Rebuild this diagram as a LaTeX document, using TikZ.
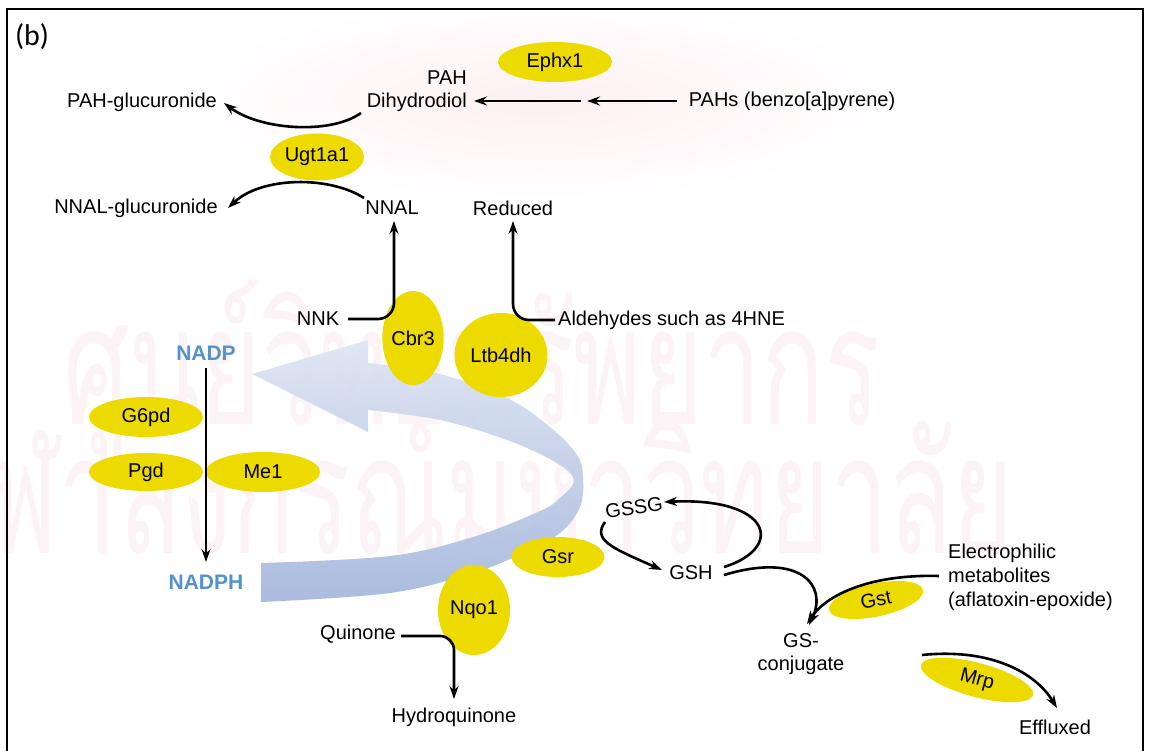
\documentclass[tikz,border=0pt]{standalone}
\usepackage{fontspec}
\setmainfont{Liberation Sans}
\newfontfamily\labfont{Carlito}
\newfontfamily\thaifont[Script=Thai]{Loma}
\usetikzlibrary{shapes.geometric,arrows.meta}
\definecolor{enz}{RGB}{237,219,0}
\definecolor{nadcol}{RGB}{84,146,204}
\definecolor{bandtop}{RGB}{222,229,243}
\definecolor{bandbot}{RGB}{164,182,220}
\definecolor{wmcol}{RGB}{252,243,246}
\definecolor{crestcol}{RGB}{252,240,242}
\begin{document}
\begin{tikzpicture}[x=1pt,y=-1pt,
  every node/.style={font=\fontsize{20}{22.5}\selectfont, inner sep=1pt},
  enzyme/.style={ellipse, fill=enz, inner sep=0pt},
  nad/.style={font=\bfseries\fontsize{21}{24}\selectfont, text=nadcol},
  conn/.style={line width=2.6pt, -{Stealth[length=13pt,width=9pt]}},
  watermark/.style={font=\thaifont\fontsize{165}{165}\selectfont, text=wmcol, xscale=0.63, inner sep=0pt}
]
\useasboundingbox (0,0) rectangle (1151,751);
\fill[white] (0,0) rectangle (1151,751);
% faint crest behind the top
\shade[inner color=crestcol, outer color=white] (540,100) ellipse [x radius=360pt, y radius=100pt];

% watermark
\node[watermark] (wm1) at (472,374) {ศูนย์วิทยทรัพยากร};
\node[watermark] (wm2) at (470,503) {จุฬาลงกรณ์มหาวิทยาลัย};

% curved ribbon arrow
\shade[top color=bandtop, bottom color=bandbot, fill opacity=0.92]
  plot[smooth, tension=0.6] coordinates {(261,602) (390,593) (473,573) (523,553) (560,533) (580,507) (583,477) (577,455) (550,427) (507,398) (440,374) (368,363)}
  -- (368,340) -- (252,374) -- (368,432) --
  plot[smooth, tension=0.6] coordinates {(368,410) (440,420) (507,440) (555,462) (574,480) (560,498) (540,511) (473,537) (390,556) (261,563)}
  -- cycle;

% enzymes
\node[enzyme, minimum width=114pt, minimum height=40pt] (ephx) at (555,62) {Ephx1};
\node[enzyme, minimum width=94pt, minimum height=47pt] (ugt) at (317,157) {Ugt1a1};
\node[enzyme, minimum width=57pt, minimum height=94pt] (cbr) at (413,338) {Cbr3};
\node[enzyme, minimum width=93pt, minimum height=84pt] (ltb) at (501,355) {Ltb4dh};
\node[enzyme, minimum width=114pt, minimum height=40pt] (g6pd) at (146,417) {G6pd};
\node[enzyme, minimum width=114pt, minimum height=38pt] (pgd) at (146,472) {Pgd};
\node[enzyme, minimum width=114pt, minimum height=40pt] (me1) at (263,472) {Me1};
\node[enzyme, minimum width=93pt, minimum height=40pt] (gsr) at (558,557) {Gsr};
\node[enzyme, minimum width=72pt, minimum height=90pt] (nqo) at (474,610) {Nqo1};
\node[enzyme, minimum width=96pt, minimum height=33pt, rotate=12] (gst) at (876,600) {Gst};
\node[enzyme, minimum width=116pt, minimum height=34pt, rotate=-15] (mrp) at (977,680) {Mrp};

% texts
\node[font=\labfont\fontsize{30}{30}\selectfont] (lbl) at (32,37) {(b)};
\node (pahgluc) at (142,102) {PAH-glucuronide};
\node[align=right, anchor=east] (pahd) at (468,91) {PAH\\Dihydrodiol};
\node (pahs) at (792,101) {PAHs (benzo[a]pyrene)};
\node (nnalg) at (136,208) {NNAL-glucuronide};
\node (nnal) at (392,208) {NNAL};
\node (red) at (513,208) {Reduced};
\node (nnk) at (318,319) {NNK};
\node[anchor=west] (ald) at (557,320) {Aldehydes such as 4HNE};
\node[nad] (nadp) at (206,353) {NADP};
\node[nad] (nadph) at (206,582) {NADPH};
\node (quin) at (358,634) {Quinone};
\node (hq) at (454,717) {Hydroquinone};
\node[rotate=8] (gssg) at (634,508) {GSSG};
\node (gsh) at (691,573) {GSH};
\node[align=center] (gsc) at (801,654) {GS-\\conjugate};
\node[align=left, anchor=west, font=\fontsize{20}{24}\selectfont] (elec) at (947,577) {Electrophilic\\metabolites\\(aflatoxin-epoxide)};
\node (eff) at (1055,727) {Effluxed};

% connector end points
\coordinate (pahsL) at (677,101);
\coordinate (midR) at (581,101);
\coordinate (midL) at (587,101);
\coordinate (pahdR) at (474,101);
\coordinate (pahdB) at (361,113);
\coordinate (pahgR) at (224,103);
\coordinate (nnalL) at (364,198);
\coordinate (nnalgR) at (228,208);
\coordinate (nnkR) at (348,319);
\coordinate (nnalB) at (394,221);
\coordinate (aldL) at (555,320);
\coordinate (redB) at (513,221);
\coordinate (nadpB) at (206,368);
\coordinate (nadphT) at (206,562);
\coordinate (quinR) at (401,636);
\coordinate (hqT) at (454,699);
\coordinate (gshR1) at (724,567);
\coordinate (gssgR) at (664,502);
\coordinate (gssgL) at (605,522);
\coordinate (gshL) at (662,570);
\coordinate (gshR2) at (724,575);
\coordinate (gscT1) at (809,625);
\coordinate (elecL) at (939,576);
\coordinate (gscT2) at (807,624);
\coordinate (mrpS) at (922,655);
\coordinate (effT) at (1057,708);

% connectors
\draw[conn] (midR) -- (pahdR);
\draw[conn] (pahsL) -- (midL);
\draw[conn] (pahdB) .. controls (330,135) and (260,130) .. (pahgR);
\draw[conn] (nnalL) .. controls (330,176) and (262,176) .. (nnalgR);
\draw[conn, rounded corners=16pt] (nnkR) -| (nnalB);
\draw[conn, rounded corners=16pt] (aldL) -| (redB);
\draw[conn] (nadpB) -- (nadphT);
\draw[conn, rounded corners=14pt] (quinR) -| (hqT);
\draw[conn] (gshR1) .. controls (785,548) and (772,497) .. (gssgR);
\draw[conn] (gssgL) .. controls (592,540) and (612,548) .. (gshL);
\draw[conn] (gshR2) .. controls (800,552) and (828,585) .. (gscT1);
\draw[conn] (elecL) .. controls (870,574) and (826,595) .. (gscT2);
\draw[conn] (mrpS) .. controls (990,648) and (1035,672) .. (effT);

% frame
\draw[line width=1.6pt] (7,760) -- (7,9) -- (1143,9) -- (1143,760);
\end{tikzpicture}
\end{document}
